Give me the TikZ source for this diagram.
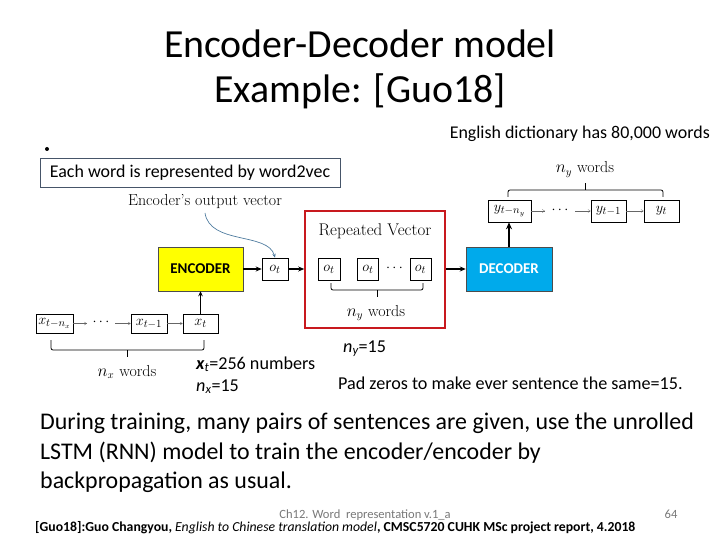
\documentclass[tikz,border=0pt]{standalone}
\usepackage{fontspec}
\newfontfamily\calfont{Carlito}
\usetikzlibrary{arrows.meta,calc}
\definecolor{encyellow}{RGB}{255,255,0}
\definecolor{decblue}{RGB}{0,170,235}
\definecolor{rvred}{RGB}{200,25,30}
\definecolor{slateframe}{RGB}{70,85,105}
\definecolor{curveblue}{RGB}{80,125,160}
\definecolor{footgray}{RGB}{120,120,120}
\begin{document}
\begin{tikzpicture}[x=1bp,y=-1bp,
  cal/.style={font=\calfont\fontsize{#1}{#1}\selectfont},
  cmtext/.style={font=\fontsize{#1}{#1}\selectfont},
  vbox/.style={draw=black,line width=0.6bp,inner sep=0pt,minimum height=22bp,font=\fontsize{15}{15}\selectfont},
  bigbox/.style={draw=black!70,line width=0.5bp,inner sep=0pt,minimum width=86bp,minimum height=44bp,font=\calfont\bfseries\fontsize{15}{15}\selectfont},
  thickarr/.style={-{Stealth[length=6bp,width=5bp]},line width=1.2bp},
  thinarr/.style={-{Straight Barb[length=2.5bp,width=3bp]},line width=0.3bp,draw=black!60},
  bracket/.style={line width=0.8bp,rounded corners=2bp},
  lbl/.style={inner sep=0pt,anchor=base west}
]
\useasboundingbox (0,0) rectangle (720,540);
% titles
\node[cal=40,anchor=base] (t1) at (360,58) {Encoder-Decoder model};
\node[cal=40,anchor=base] (t2) at (360,103) {Example: [Guo18]};
\node[cal=18,lbl,anchor=base east] (dict) at (710,139) {English dictionary has 80,000 words};
\fill (47,149) circle (2bp);
\node[draw=slateframe,line width=0.8bp,cal=18,minimum width=300bp,minimum height=29bp,inner sep=0pt] (w2v) at (190,172.5) {Each word is represented by word2vec};
% encoder side
\node[cmtext=16,lbl,anchor=base] (eov) at (205,206) {Encoder's output vector};
\node[bigbox,fill=encyellow,minimum width=85bp] (enc) at (200.5,269) {ENCODER};
\node[vbox,minimum width=26bp] (ot0) at (275,269) {$o_t$};
\draw[draw=curveblue,line width=0.7bp,-{Stealth[length=4bp,width=3.5bp]}] (205,213) .. controls (210,245) and (268,232) .. (ot0.north);
% repeated vector
\node[draw=rvred,line width=1.6bp,minimum width=140bp,minimum height=117bp,inner sep=0pt] (rv) at (375,269.5) {};
\node[cmtext=17,lbl,anchor=base] (rvt) at (375,236) {Repeated Vector};
\node[vbox,minimum width=22bp] (o1) at (329,269) {$o_t$};
\node[vbox,minimum width=21bp] (o2) at (368,269) {$o_t$};
\node[vbox,minimum width=21bp] (o3) at (420.5,269) {$o_t$};
\node[inner sep=0pt,font=\fontsize{14}{14}\selectfont] (od) at (394.5,268) {$\cdots$};
\draw[bracket] (331,283) |- (423,290) -- (423,283);
\draw[line width=0.8bp] (377,290) -- (377,297);
\node[cmtext=16,lbl,anchor=base] (nyw1) at (376,316) {$n_y$ words};
\draw[thickarr] (enc) -- (ot0);
\draw[thickarr] (ot0) -- (rv.west |- ot0);
% decoder
\node[bigbox,fill=decblue,text=white] (dec) at (509,269) {DECODER};
\draw[thickarr] (rv.east |- dec) -- (dec);
\node[vbox,minimum width=43bp] (y1) at (509.5,211) {$y_{t-n_y}$};
\node[vbox,minimum width=35bp] (y2) at (608.5,211) {$y_{t-1}$};
\node[vbox,minimum width=35bp] (y3) at (661.5,211) {$y_t$};
\node[inner sep=0pt,font=\fontsize{14}{14}\selectfont] (yd) at (560,210) {$\cdots$};
\coordinate (ya) at (545,211);
\coordinate (yb) at (575,211);
\draw[thinarr] (y1) -- (ya);
\draw[thinarr] (yb) -- (y2);
\draw[thinarr] (y2) -- (y3);
\draw[-{Stealth[length=7bp,width=6bp]},line width=2.2bp] (dec) -- (dec.north |- y1.south);
\draw[bracket] (508,197) |- (663,190) -- (663,197);
\draw[line width=0.8bp] (585,190) -- (585,183);
\node[cmtext=16,lbl,anchor=base] (nyw2) at (585,173) {$n_y$ words};
% inputs
\node[vbox,minimum width=37bp,minimum height=19bp] (x1) at (54.5,323.5) {$x_{t-n_x}$};
\node[vbox,minimum width=36bp,minimum height=19bp] (x2) at (149,323.5) {$x_{t-1}$};
\node[vbox,minimum width=35bp,minimum height=19bp] (x3) at (200.5,323.5) {$x_t$};
\node[inner sep=0pt,font=\fontsize{14}{14}\selectfont] (xd) at (101,322.5) {$\cdots$};
\coordinate (xa) at (87,323.5);
\coordinate (xb) at (115,323.5);
\draw[thinarr] (x1) -- (xa);
\draw[thinarr] (xb) -- (x2);
\draw[thinarr] (x2) -- (x3);
\draw[-{Stealth[length=5bp,width=4.5bp]},line width=0.9bp] (x3) -- (x3 |- enc.south);
\draw[bracket] (51,340) |- (204,350) -- (204,340);
\draw[line width=0.8bp] (127,350) -- (127,357);
\node[cmtext=16,lbl,anchor=base] (nxw) at (127,376) {$n_x$ words};
% annotations
\node[cal=18.2,lbl] (xt) at (196,369) {{\bfseries\itshape x}\textsubscript{\itshape t}=256 numbers};
\node[cal=18.2,lbl] (nx) at (196,391) {{\itshape n}\textsubscript{\itshape x}=15};
\node[cal=18.2,lbl] (ny) at (343,352) {{\itshape n}\textsubscript{\itshape y}=15};
\node[cal=18.2,lbl] (pad) at (338,389) {Pad zeros to make ever sentence the same=15.};
% paragraph
\node[cal=24,lbl] (p1) at (40,429) {During training, many pairs of sentences are given, use the unrolled};
\node[cal=24,lbl] (p2) at (40,459) {LSTM (RNN) model to train the encoder/encoder by};
\node[cal=24,lbl] (p3) at (40,488) {backpropagation as usual.};
% footer
\node[cal=12.6,lbl,anchor=base,text=footgray] (foot) at (365,518) {Ch12. Word\ \ representation v.1\_a};
\node[cal=12.6,lbl,anchor=base,text=footgray] (pg) at (671,518) {64};
\node[cal=13.8,lbl] (cite) at (35,531) {\bfseries [Guo18]:Guo Changyou, {\mdseries\itshape English to Chinese translation model}, CMSC5720 CUHK MSc project report, 4.2018};
\end{tikzpicture}
\end{document}
